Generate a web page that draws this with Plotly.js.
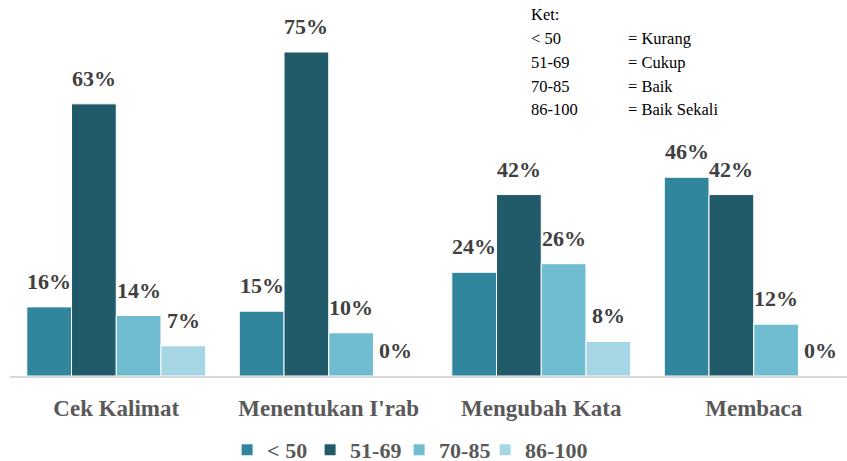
<!DOCTYPE html>
<html>
<head>
<meta charset="utf-8">
<script src="https://cdn.plot.ly/plotly-3.0.1.min.js"></script>
<style>html,body{margin:0;padding:0;background:#fff;}</style>
</head>
<body>
<div id="chart"></div>
<script>
var categories = ["Cek Kalimat", "Menentukan I'rab", "Mengubah Kata", "Membaca"];
var seriesNames = ["< 50", "51-69", "70-85", "86-100"];
var valsLow = [16, 15, 24, 46];
var valsMid = [63, 75, 42, 42];
var valsHigh = [14, 10, 26, 12];
var valsTop = [7, 0, 8, 0];
var keyRanges = ["< 50", "51-69", "70-85", "86-100"];
var keyMeanings = ["= Kurang", "= Cukup", "= Baik", "= Baik Sekali"];

var seriesValues = [valsLow, valsMid, valsHigh, valsTop];
var colors = ["#31859C", "#215A69", "#70BDD1", "#A6D6E4"];
var FONT = "Liberation Serif";
var bargap = 0.158;
var barW = (1 - bargap) / 4;
var plotLeft = 10, plotTop = 20, plotW = 837, plotH = 356;
var legendEntryW = [38, 44, 41, 68];

var traces = seriesValues.map(function (vals, i) {
  return {
    type: "bar",
    name: "<b>" + seriesNames[i].replace("<", "&lt;") + "</b>",
    x: categories.map(function (c, j) { return j; }),
    y: vals,
    legendwidth: legendEntryW[i],
    marker: { color: colors[i], line: { color: "#ffffff", width: 1 } },
    hoverinfo: "none"
  };
});

var annotations = [];
seriesValues.forEach(function (vals, i) {
  vals.forEach(function (v, j) {
    annotations.push({
      x: j + (i - 1.5) * barW, y: v, xref: "x", yref: "y",
      text: "<b>" + v + "%</b>", showarrow: false, yanchor: "bottom", yshift: 11,
      font: { family: FONT, size: 22, color: "#404040" }
    });
  });
});
var keyFont = { family: FONT, size: 16.5, color: "#000" };
annotations.push({
  x: (529 - plotLeft) / plotW, y: 1 - (15 - plotTop) / plotH,
  xref: "paper", yref: "paper", text: "Ket:", showarrow: false,
  xanchor: "left", yanchor: "middle", font: keyFont
});
keyRanges.forEach(function (r, k) {
  var yy = 1 - (39 + k * 23.5 - plotTop) / plotH;
  annotations.push({
    x: (529 - plotLeft) / plotW, y: yy, xref: "paper", yref: "paper",
    text: r.replace("<", "&lt;"), showarrow: false, xanchor: "left", yanchor: "middle", font: keyFont
  });
  annotations.push({
    x: (626 - plotLeft) / plotW, y: yy, xref: "paper", yref: "paper",
    text: keyMeanings[k], showarrow: false, xanchor: "left", yanchor: "middle", font: keyFont
  });
});

var layout = {
  width: 847, height: 461,
  font: { family: FONT },
  margin: { l: plotLeft, r: 0, t: plotTop, b: 461 - plotTop - plotH },
  paper_bgcolor: "#fff", plot_bgcolor: "#fff",
  barmode: "group", bargap: bargap, bargroupgap: 0,
  showlegend: true,
  legend: {
    orientation: "h", x: 0.481, xanchor: "center",
    yref: "container", y: (461 - 450) / 461, yanchor: "middle",
    font: { family: FONT, size: 22, color: "#595959" },
    traceorder: "normal", itemwidth: 30
  },
  xaxis: {
    range: [-0.5, -0.5 + plotW / 212.5], automargin: false,
    tickmode: "array", tickvals: [0, 1, 2, 3], ticktext: categories.map(function (c) { return "<b>" + c + "</b>"; }),
    ticks: "", showgrid: false, zeroline: false,
    showline: true, linecolor: "#D9D9D9", linewidth: 2,
    ticklabelstandoff: 10,
    tickfont: { family: FONT, size: 23, color: "#595959" }
  },
  yaxis: { range: [0, plotH / 4.32], visible: false, showgrid: false, zeroline: false, automargin: false },
  annotations: annotations
};

Plotly.newPlot("chart", traces, layout, { displayModeBar: false, staticPlot: true });
</script>
</body>
</html>
